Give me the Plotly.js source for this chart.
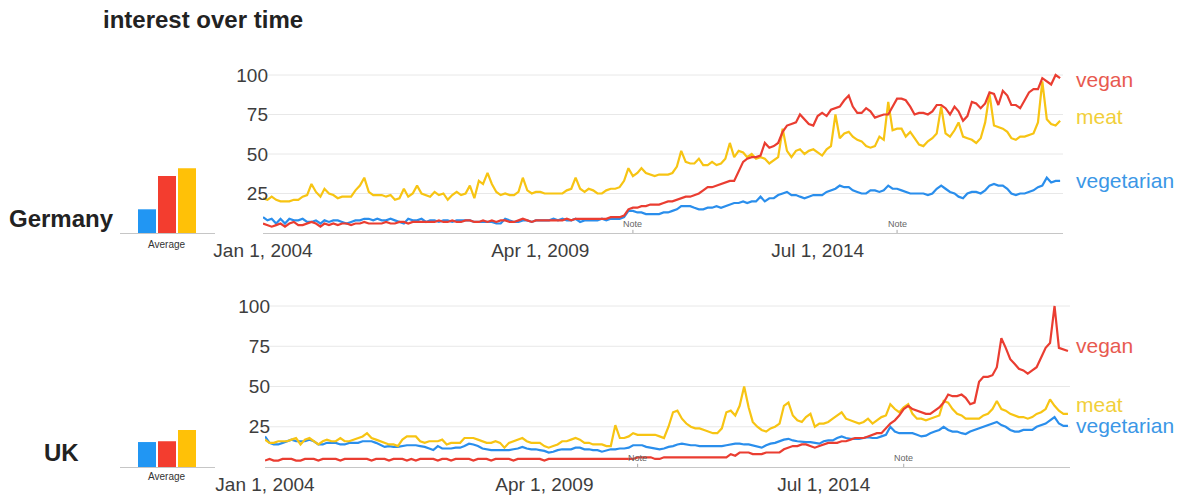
<!DOCTYPE html>
<html><head><meta charset="utf-8">
<script src="https://cdn.plot.ly/plotly-3.0.1.min.js"></script>
<style>html,body{margin:0;padding:0;background:#fff;} #chart{width:1185px;height:498px;}</style>
</head><body><div id="chart"></div>
<script>
// ---- data (monthly, Jan 2004 .. Feb 2019) ----
const seriesNames = ['vegan', 'meat', 'vegetarian'];
const deMeat = [
22,21,23,21,20,20,20,21,21,23,
24,31,26,23,28,25,24,22,23,23,
23,27,30,35,26,24,24,24,23,24,
21,22,28,23,25,30,25,24,23,26,
24,25,21,24,26,24,25,30,22,33,
31,38,31,26,24,25,24,24,26,35,
27,25,26,26,25,25,25,25,25,27,
28,35,28,26,28,27,25,25,27,28,
28,29,33,41,36,38,41,38,37,36,
37,37,37,38,42,52,45,44,44,47,
43,43,45,43,44,47,57,48,52,51,
48,50,47,48,47,44,46,48,66,52,
48,52,53,50,52,53,51,49,53,55,
75,60,63,64,61,59,58,55,54,55,
61,59,83,65,66,66,61,64,60,56,
55,58,60,63,80,63,61,65,70,61,
60,59,57,60,70,88,68,67,66,64,
60,59,61,61,62,63,70,96,72,69,
68,71];
const deVegan = [
6,5,4,5,6,4,6,7,5,5,
6,7,6,4,6,5,6,5,6,6,
5,6,6,7,6,6,6,6,7,6,
6,7,7,6,7,7,7,7,7,7,
8,7,7,8,7,7,8,8,7,7,
8,7,8,7,8,8,7,7,8,9,
8,7,8,8,8,8,8,8,8,9,
8,9,9,9,9,9,9,9,9,10,
10,10,11,15,16,16,17,17,18,18,
18,19,20,20,21,22,23,23,24,25,
27,29,29,30,31,32,33,33,39,45,
47,48,48,49,57,54,55,57,64,68,
69,70,75,72,69,68,74,76,74,78,
79,80,84,87,80,76,76,79,77,73,
74,75,75,80,85,85,84,80,75,76,
76,75,77,81,81,79,75,80,77,71,
74,83,82,79,82,89,88,81,90,87,
81,81,79,84,89,91,91,98,96,94,
100,98];
const deVeg = [
10,8,9,6,9,6,9,8,8,9,
7,7,8,6,8,7,8,8,7,6,
7,8,8,9,9,8,9,8,8,9,
8,7,6,9,8,8,9,7,8,8,
7,8,8,7,8,8,8,8,7,7,
7,7,7,6,6,9,8,7,7,8,
8,7,8,8,8,8,9,8,9,8,
8,9,7,8,8,8,8,9,8,9,
9,9,10,14,14,13,13,12,12,12,
12,13,13,14,15,17,17,17,16,15,
15,16,16,17,16,17,18,19,19,20,
19,20,20,23,20,22,22,24,25,26,
24,24,23,22,23,24,24,24,26,27,
28,30,29,29,27,26,25,25,27,27,
26,27,30,28,28,27,26,25,25,25,
25,24,25,28,30,28,26,25,23,22,
25,26,26,25,27,30,31,30,30,28,
25,24,25,25,26,27,29,30,35,32,
33,33];
const ukMeat = [
17,15,15,16,16,16,17,18,14,17,
18,16,14,16,17,16,16,18,16,16,
17,18,19,21,18,17,16,15,14,14,
13,17,19,19,19,16,15,16,16,16,
17,14,15,15,15,18,18,18,17,16,
15,15,16,15,12,15,16,17,18,16,
15,15,15,13,12,13,14,16,16,17,
18,17,15,15,14,14,14,13,13,26,
18,18,19,21,20,20,20,20,20,19,
18,25,34,35,30,27,25,24,24,23,
22,21,21,24,34,35,32,38,50,37,
28,25,23,22,24,25,27,38,40,32,
29,28,31,33,25,27,27,28,30,32,
34,30,29,28,27,28,30,27,29,31,
32,39,36,34,37,39,33,30,30,29,
30,31,32,41,40,36,33,32,30,30,
30,30,32,33,36,41,36,35,33,32,
31,31,30,31,33,34,36,42,38,35,
33,33];
const ukVegan = [
4,5,4,4,5,5,5,4,4,5,
5,5,4,5,5,5,5,4,5,5,
5,5,5,5,4,5,5,5,4,5,
5,5,4,5,4,5,5,5,5,4,
5,5,4,5,5,5,5,4,5,5,
5,4,5,5,5,5,4,5,5,5,
5,5,5,4,5,5,5,5,5,5,
5,5,5,5,5,5,5,5,5,5,
5,5,5,5,6,6,6,6,5,5,
6,6,6,6,6,6,6,6,6,6,
6,6,6,6,6,8,7,9,9,9,
8,8,8,9,9,9,9,11,12,13,
13,14,14,13,12,13,14,15,15,15,
16,16,17,18,18,18,19,20,21,21,
24,27,29,32,36,38,36,35,34,33,
33,35,37,40,45,44,44,45,43,39,
40,53,56,56,57,62,80,74,67,64,
61,60,58,60,62,68,74,77,100,74,
73,72];
const ukVeg = [
19,15,14,14,15,16,17,16,16,16,
17,16,14,14,15,15,15,14,14,15,
15,15,16,16,16,15,14,12.5,13,12.5,
12.5,13,13.5,13.5,13.5,13,12.5,11.5,10.5,13,
11.5,11.5,11.5,12,12,13,14.5,14,13,11.5,
11,10.5,10.5,10.5,10.5,10.5,11,11.5,12.5,11.5,
11,11,10.5,10,9,9.5,10.5,11,11,11,
12,12,11,11,10.5,10.5,9.5,10.5,11,11,
11.5,11.5,12,13.5,13.5,13.5,12.5,12,11.5,11,
11.5,12.5,13,14,14.5,14,13.5,13.5,13,13,
13,13,13,13,13.5,14,14.5,14.5,14,14,
13.5,12.5,12,13.5,14.5,15,16,17,17.5,16.5,
16,15.5,15.5,15.5,15,14.5,16,16.5,16.5,18,
19,18,17.5,17.5,17.5,18,18.5,18,18,19,
20,25,22,21,21,21,21,20,19,19.5,
21,22,23,25,23,22,22,21,20.5,22,
23,24,25,26,27,28,26,25,23,22,
22,23,23,23,25,26,27,29,31,27,
25.5,25.5];
// averages: vegetarian, vegan, meat
const avgCategories = ['vegetarian', 'vegan', 'meat'];
const deAvg = [15, 36, 41];
const ukAvg = [15.5, 16, 23];
const tickDates = ['2004-01-01', '2009-04-01', '2014-07-01'];
const tickLabels = ['Jan 1, 2004', 'Apr 1, 2009', 'Jul 1, 2014'];
const yTicks = [25, 50, 75, 100];
const noteDates = ['2011-01-01', '2016-01-01'];

// month axis
const months = [];
for (let i = 0; i < deMeat.length; i++) {
  const y = 2004 + Math.floor(i / 12), m = i % 12 + 1;
  months.push(y + '-' + String(m).padStart(2, '0') + '-01');
}

const W = 1185, H = 498;
const px = x => x / W, py = y => 1 - y / H;
const FONT = 'Liberation Sans, Arial, Helvetica, sans-serif';
const C = {vegan: '#ea3d31', meat: '#f7c413', vegetarian: '#2a8eec'};
const CT = {vegan: '#e85a50', meat: '#f1cf3b', vegetarian: '#3b97e6'};
const BAR = ['#2196f3', '#f33d2f', '#ffc107'];

function line(y, name, xa, ya) {
  return {x: months, y: y, type: 'scatter', mode: 'lines', name: name, xaxis: xa, yaxis: ya,
    line: {color: C[name], width: 2.2}, hoverinfo: 'skip'};
}
const data = [
  line(deVeg, 'vegetarian', 'x', 'y'), line(deMeat, 'meat', 'x', 'y'), line(deVegan, 'vegan', 'x', 'y'),
  line(ukVeg, 'vegetarian', 'x2', 'y2'), line(ukMeat, 'meat', 'x2', 'y2'), line(ukVegan, 'vegan', 'x2', 'y2'),
  {x: [0, 1, 2], y: deAvg, type: 'bar', xaxis: 'x3', yaxis: 'y3', width: 0.9, marker: {color: BAR}, hoverinfo: 'skip'},
  {x: [0, 1, 2], y: ukAvg, type: 'bar', xaxis: 'x4', yaxis: 'y4', width: 0.9, marker: {color: BAR}, hoverinfo: 'skip'}
];

const topY = [py(233), py(233 - 105 * 1.58)];
const botY = [py(467), py(467 - 105 * 1.61)];

function mainX(dom, end, anchor) {
  return {domain: dom, range: ['2004-01-01', end], type: 'date', anchor: anchor,
    tickvals: tickDates, ticktext: tickLabels, tickmode: 'array', ticks: '',
    showline: true, linecolor: '#c6c6c6', linewidth: 1.3, showgrid: false, zeroline: false,
    tickfont: {family: FONT, size: 19, color: '#3d3d3d'}, fixedrange: true};
}
function mainY(dom, anchor) {
  return {domain: dom, range: [0, 105], anchor: anchor, tickvals: yTicks, tickmode: 'array', ticks: '',
    showgrid: false, zeroline: false, showline: false, ticklabelstandoff: -6,
    tickfont: {family: FONT, size: 19, color: '#3d3d3d'}, fixedrange: true};
}
function miniX(anchor) {
  return {domain: [px(120), px(215)], range: [-1.35, 3.4], anchor: anchor, showticklabels: false,
    ticks: '', showgrid: false, zeroline: false, showline: true, linecolor: '#c6c6c6', linewidth: 1.2, fixedrange: true};
}
function miniY(dom, anchor) {
  return {domain: dom, range: [0, 105], anchor: anchor, visible: false, fixedrange: true};
}

const shapes = [];
yTicks.forEach(v => {
  shapes.push({type: 'line', xref: 'paper', yref: 'y', x0: px(268), x1: px(1063), y0: v, y1: v, layer: 'below', line: {color: '#e8e8e8', width: 1}});
  shapes.push({type: 'line', xref: 'paper', yref: 'y2', x0: px(268), x1: px(1070), y0: v, y1: v, layer: 'below', line: {color: '#e8e8e8', width: 1}});
});
noteDates.forEach(d => {
  shapes.push({type: 'line', xref: 'x', yref: 'y', x0: d, x1: d, y0: 0, y1: 2, line: {color: '#aaa', width: 1}});
  shapes.push({type: 'line', xref: 'x2', yref: 'y2', x0: d, x1: d, y0: 0, y1: 2, line: {color: '#aaa', width: 1}});
});

const annotations = [];
function lab(text, yref, yv, name) {
  annotations.push({text: text, xref: 'paper', x: px(1074), xanchor: 'left', yref: yref, y: yv, yanchor: 'middle',
    showarrow: false, font: {family: FONT, size: 21, color: CT[name]}});
}
lab(seriesNames[0], 'y', 97, 'vegan'); lab(seriesNames[1], 'y', 74, 'meat'); lab(seriesNames[2], 'y', 33, 'vegetarian');
lab(seriesNames[0], 'y2', 75.5, 'vegan'); lab(seriesNames[1], 'y2', 39, 'meat'); lab(seriesNames[2], 'y2', 26, 'vegetarian');
noteDates.forEach(d => {
  annotations.push({text: 'Note', xref: 'x', x: d, yref: 'paper', y: py(224), yanchor: 'middle', showarrow: false, font: {family: FONT, size: 9, color: '#666'}});
  annotations.push({text: 'Note', xref: 'x2', x: d, yref: 'paper', y: py(458), yanchor: 'middle', showarrow: false, font: {family: FONT, size: 9, color: '#666'}});
});
annotations.push({text: 'Germany', xref: 'paper', x: px(62), xanchor: 'center', yref: 'paper', y: py(219), yanchor: 'middle', showarrow: false, font: {family: FONT, size: 24, color: '#222', weight: 'bold'}});
annotations.push({text: 'UK', xref: 'paper', x: px(62), xanchor: 'center', yref: 'paper', y: py(452), yanchor: 'middle', showarrow: false, font: {family: FONT, size: 24, color: '#222', weight: 'bold'}});
annotations.push({text: 'Average', xref: 'paper', x: px(167), xanchor: 'center', yref: 'paper', y: py(244), yanchor: 'middle', showarrow: false, font: {family: FONT, size: 10, color: '#333'}});
annotations.push({text: 'Average', xref: 'paper', x: px(167), xanchor: 'center', yref: 'paper', y: py(476), yanchor: 'middle', showarrow: false, font: {family: FONT, size: 10, color: '#333'}});

const layout = {
  width: W, height: H, margin: {l: 0, r: 0, t: 0, b: 0}, paper_bgcolor: '#fff', plot_bgcolor: 'rgba(0,0,0,0)',
  showlegend: false, hovermode: false,
  title: {text: 'interest over time', x: px(103), xanchor: 'left', xref: 'paper', y: py(20), yanchor: 'middle', yref: 'paper',
    font: {family: FONT, size: 24, color: '#222', weight: 'bold'}},
  xaxis: mainX([px(263), px(1063)], '2019-02-21', 'y'),
  yaxis: mainY(topY, 'x'),
  xaxis2: mainX([px(265), px(1070)], '2019-02-15', 'y2'),
  yaxis2: mainY(botY, 'x2'),
  xaxis3: miniX('y3'), yaxis3: miniY(topY, 'x3'),
  xaxis4: miniX('y4'), yaxis4: miniY(botY, 'x4'),
  shapes: shapes, annotations: annotations
};
Plotly.newPlot('chart', data, layout, {staticPlot: true, displayModeBar: false});
</script>
</body></html>
